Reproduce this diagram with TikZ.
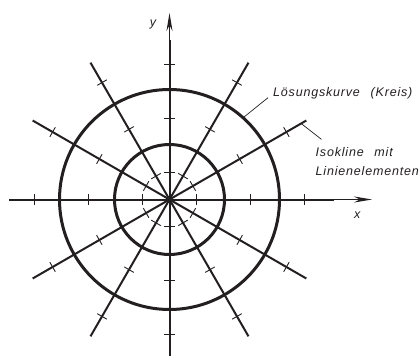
\documentclass[tikz,border=0pt]{standalone}
\usepackage{fontspec}
\setsansfont[LetterSpace=6.5,WordSpace=2.5]{Liberation Sans}
\usetikzlibrary{arrows.meta}
\definecolor{IsoInk}{HTML}{231F20}

\begin{document}
\begin{tikzpicture}[x=1pt,y=1pt,font=\sffamily\itshape\fontsize{12.5}{19}\selectfont,
  isoline/.style={draw=IsoInk,line width=2pt},
  solution/.style={draw=IsoInk,line width=3pt},
  elem/.style={draw=IsoInk,line width=0.9pt},
  axisarrow/.style={draw=IsoInk,line width=1pt,-{Stealth[length=18pt,width=6pt]}},
  leader/.style={draw=IsoInk,line width=0.7pt},
  lbl/.style={text=IsoInk,inner sep=0pt}]
  \useasboundingbox (-169.5,-156.5) rectangle (250.5,199.5);
  \coordinate (O) at (0,0);
  % isoclines through the origin
  \foreach \w in {30,60,120,150}
    \draw[isoline] (\w:158) -- (\w+180:158);
  \draw[isoline] (-160,0) -- (164,0);
  \draw[isoline] (0,-156) -- (0,159.5);
  \draw[axisarrow] (164,0) -- (202.5,0);
  \draw[axisarrow] (0,159.5) -- (0,186.5);
  % line elements
  \foreach \w in {0,30,...,330}
    \foreach \r in {27,81,135}
      \draw[elem,rotate=\w] (\r,-5.5) -- (\r,5.5);
  % solution curves
  \draw[solution] (O) circle[radius=55];
  \draw[solution] (O) circle[radius=110];
  % labels
  \node[lbl] (xlabel) at (187.8,-15.5) {x};
  \node[lbl] (ylabel) at (-16.5,175.5) {y};
  \node[lbl,anchor=base west] (kreis) at (103.5,102.8) {Lösungskurve (Kreis)};
  \coordinate (kreispunkt) at (48:110);
  \draw[leader] ([xshift=-5pt,yshift=-1pt]kreis.base west) -- (kreispunkt);
  \node[lbl,anchor=north west,align=left] (iso) at (146,52.1) {Isokline mit\\Linienelementen};
  \coordinate (isopunkt) at (30:152);
  \draw[leader] ([xshift=6pt,yshift=8pt]iso.north west) -- (isopunkt);
\end{tikzpicture}
\end{document}
